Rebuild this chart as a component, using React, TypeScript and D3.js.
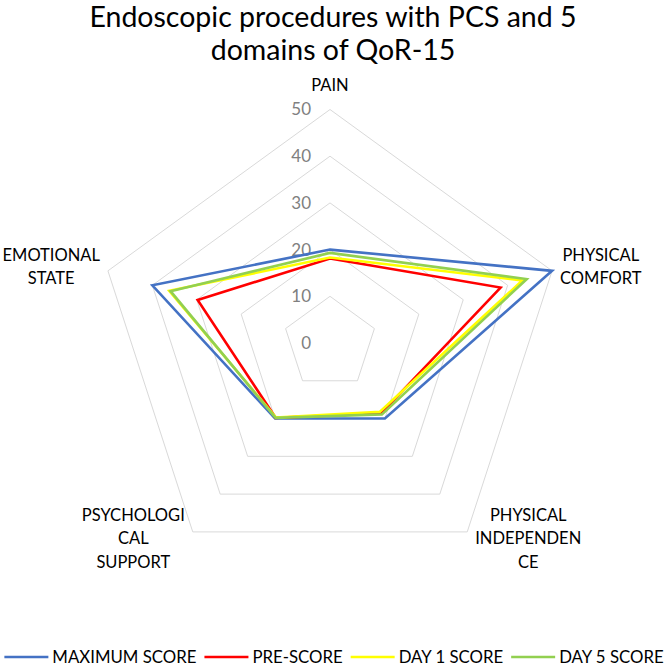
import React, { useEffect, useRef } from "react"
import * as d3 from "d3"

const categories = [
  ["PAIN"],
  ["PHYSICAL", "COMFORT"],
  ["PHYSICAL", "INDEPENDEN", "CE"],
  ["PSYCHOLOGI", "CAL", "SUPPORT"],
  ["EMOTIONAL", "STATE"],
]

const maximumScore = [20, 50, 20, 20, 40]
const preScore = [18.1, 38.4, 18.6, 19.8, 29.8]
const day1Score = [18.3, 43.3, 18.2, 19.7, 36.2]
const day5Score = [19.3, 44.3, 18.9, 19.8, 35.9]

const seriesNames = ["MAXIMUM SCORE", "PRE-SCORE", "DAY 1 SCORE", "DAY 5 SCORE"]
const seriesColors = ["#4472C4", "#FF0000", "#FFFF00", "#92D050"]

const radialTicks = [0, 10, 20, 30, 40, 50]

const titleLines = ["Endoscopic procedures with PCS and 5", "domains of QoR-15"]

const W = 666
const H = 668
const FONT = "Lato, 'Open Sans', sans-serif"

export default function App() {
  const svgRef = useRef<SVGSVGElement>(null)

  useEffect(() => {
    if (!svgRef.current) return
    const svg = d3.select(svgRef.current)
    svg.selectAll("*").remove()

    const cx = 330
    const cy = 343
    const r = d3.scaleLinear().domain([0, 50]).range([0, 233.5])
    const n = categories.length
    const angle = (i: number) => (i * 2 * Math.PI) / n
    const pt = (i: number, v: number): [number, number] => [
      cx + r(v) * Math.sin(angle(i)),
      cy - r(v) * Math.cos(angle(i)),
    ]

    svg.append("rect").attr("width", W).attr("height", H).attr("fill", "#fff")

    // title
    svg
      .append("g")
      .selectAll("text")
      .data(titleLines)
      .join("text")
      .attr("x", 333)
      .attr("y", (_d: string, i: number) => 27 + i * 33)
      .attr("text-anchor", "middle")
      .attr("font-family", FONT)
      .attr("font-size", 28.5)
      .attr("fill", "#000")
      .text((d: string) => d)

    // grid rings
    const grid = svg.append("g")
    radialTicks
      .filter((t) => t > 0)
      .forEach((t) => {
        grid
          .append("path")
          .attr(
            "d",
            d3
              .line<number>()
              .x((i: number) => pt(i, t)[0])
              .y((i: number) => pt(i, t)[1])
              .curve(d3.curveLinearClosed)(d3.range(n))
          )
          .attr("fill", "none")
          .attr("stroke", "#D9D9D9")
          .attr("stroke-width", 1)
      })

    // tick labels
    svg
      .append("g")
      .selectAll("text")
      .data(radialTicks)
      .join("text")
      .attr("x", cx - 19)
      .attr("y", (d: number) => cy - r(d))
      .attr("dy", "0.35em")
      .attr("text-anchor", "end")
      .attr("font-family", FONT)
      .attr("font-size", 17)
      .attr("fill", "#808080")
      .text((d: number) => String(d))

    // series
    const allSeries = [maximumScore, preScore, day1Score, day5Score]
    const radar = d3
      .line<number>()
      .x((v: number, i: number) => pt(i, v)[0])
      .y((v: number, i: number) => pt(i, v)[1])
      .curve(d3.curveLinearClosed)
    svg
      .append("g")
      .selectAll("path")
      .data(allSeries)
      .join("path")
      .attr("d", (d: number[]) => radar(d))
      .attr("fill", "none")
      .attr("stroke", (_d: number[], i: number) => seriesColors[i])
      .attr("stroke-width", 2.6)
      .attr("stroke-linejoin", "miter")

    // category labels
    const lineH = 23.5
    const gap = 8
    const labels = svg.append("g")
    categories.forEach((lines, i) => {
      const g = labels.append("g")
      const texts = g
        .selectAll("text")
        .data(lines)
        .join("text")
        .attr("text-anchor", "middle")
        .attr("font-family", FONT)
        .attr("font-size", 16.5)
        .attr("fill", "#000")
        .text((d: string) => d)
      let maxW = 0
      texts.each(function (this: SVGTextElement) {
        maxW = Math.max(maxW, this.getComputedTextLength())
      })
      const [vx, vy] = pt(i, 50)
      const s = Math.sin(angle(i))
      let x = vx
      let yc = vy
      if (Math.abs(s) < 0.1) {
        yc = vy - 24
      } else {
        x = vx + Math.sign(s) * (gap + maxW / 2)
        yc = Math.cos(angle(i)) > 0 ? vy - 4 : vy + 6.5
      }
      const y0 = yc - ((lines.length - 1) * lineH) / 2
      texts
        .attr("x", x)
        .attr("y", (_d: string, k: number) => y0 + k * lineH)
        .attr("dy", "0.35em")
    })

    // legend
    const legend = svg.append("g")
    const items = legend
      .selectAll("g")
      .data(seriesNames)
      .join("g")
    items
      .append("line")
      .attr("x1", 0)
      .attr("x2", 44)
      .attr("stroke", (_d: string, i: number) => seriesColors[i])
      .attr("stroke-width", 2.6)
    items
      .append("text")
      .attr("x", 48)
      .attr("dy", "0.35em")
      .attr("font-family", FONT)
      .attr("font-size", 16.8)
      .attr("fill", "#000")
      .text((d: string) => d)
    const widths: number[] = []
    items.select("text").each(function (this: SVGTextElement) {
      widths.push(48 + this.getComputedTextLength())
    })
    const itemGap = 8
    const total = d3.sum(widths) + itemGap * (widths.length - 1)
    let lx = 334 - total / 2
    items.attr("transform", (_d: string, i: number) => {
      const t = `translate(${lx},657)`
      lx += widths[i] + itemGap
      return t
    })
  }, [])

  return (
    <div style={{ position: "absolute", left: 0, top: 0 }}>
      <svg ref={svgRef} width={W} height={H}></svg>
    </div>
  )
}
